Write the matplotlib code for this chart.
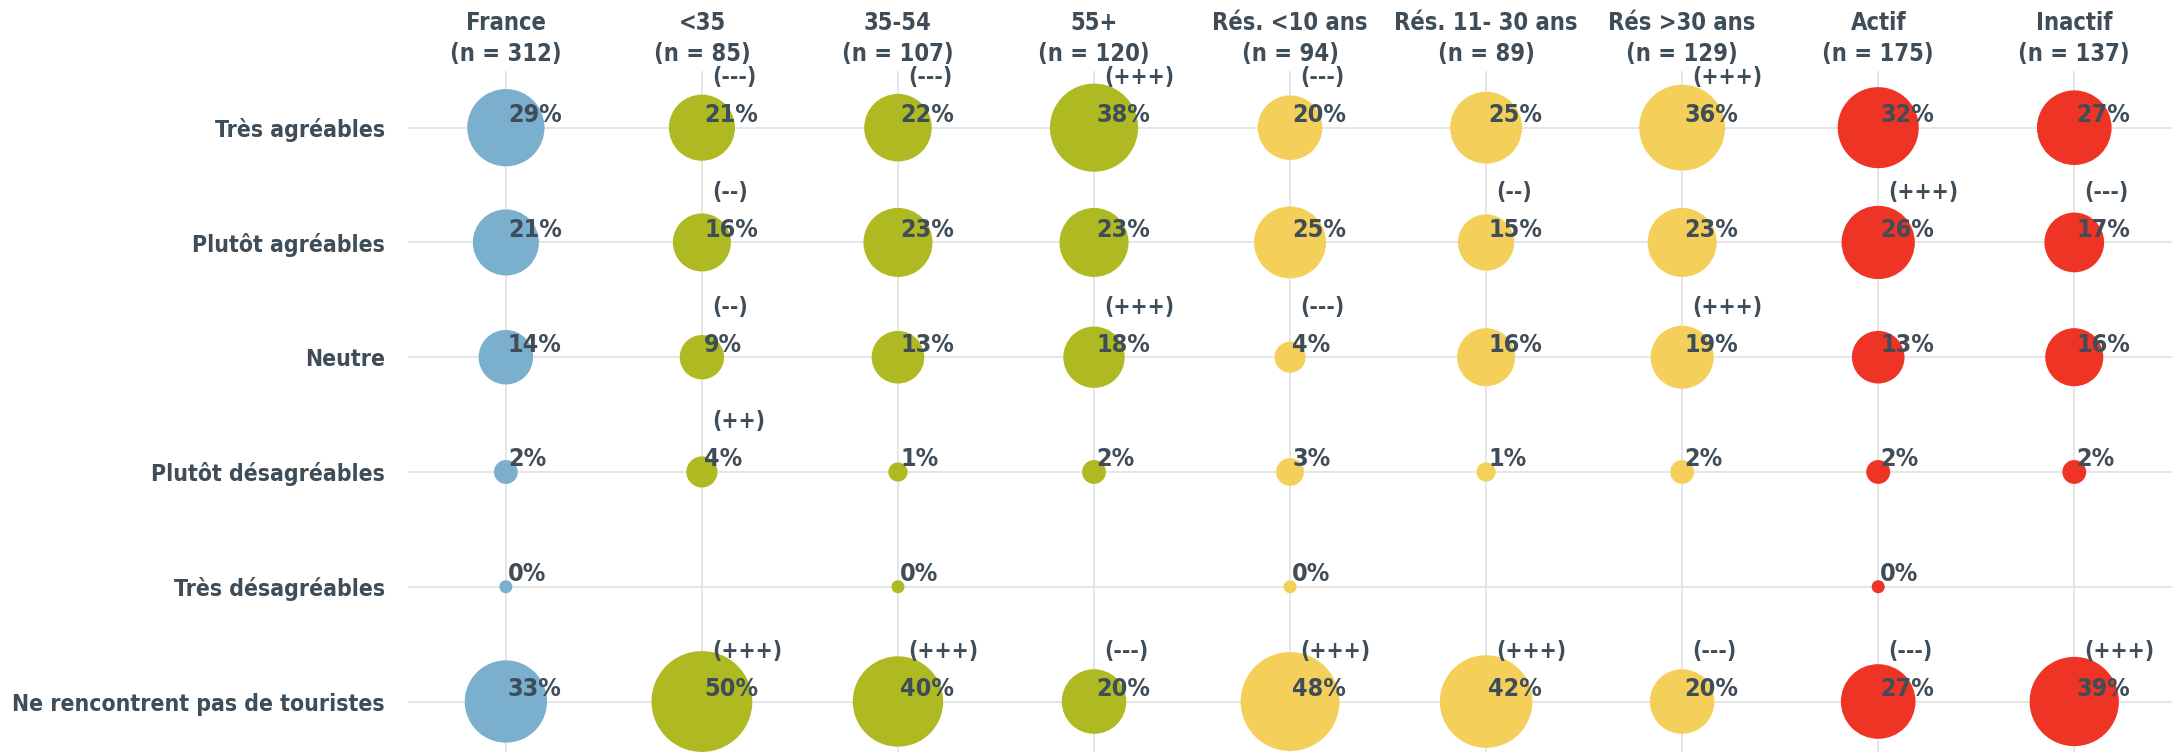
import matplotlib
matplotlib.use("Agg")
import matplotlib.pyplot as plt

# ---- data -------------------------------------------------------------
columns = ["France", "<35", "35-54", "55+", "Rés. <10 ans", "Rés. 11- 30 ans",
           "Rés >30 ans", "Actif", "Inactif"]
n_sizes = [312, 85, 107, 120, 94, 89, 129, 175, 137]
col_groups = ["total", "age", "age", "age", "res", "res", "res", "act", "act"]

rows = ["Très agréables", "Plutôt agréables", "Neutre", "Plutôt désagréables",
        "Très désagréables", "Ne rencontrent pas de touristes"]

tres_agreables = [29, 21, 22, 38, 20, 25, 36, 32, 27]
plutot_agreables = [21, 16, 23, 23, 25, 15, 23, 26, 17]
neutre = [14, 9, 13, 18, 4, 16, 19, 13, 16]
plutot_desagreables = [2, 4, 1, 2, 3, 1, 2, 2, 2]
tres_desagreables = [0, None, 0, None, 0, None, None, 0, None]
ne_rencontrent_pas = [33, 50, 40, 20, 48, 42, 20, 27, 39]

sig_tres_agreables = ["", "(---)", "(---)", "(+++)", "(---)", "", "(+++)", "", ""]
sig_plutot_agreables = ["", "(--)", "", "", "", "(--)", "", "(+++)", "(---)"]
sig_neutre = ["", "(--)", "", "(+++)", "(---)", "", "(+++)", "", ""]
sig_plutot_desagreables = ["", "(++)", "", "", "", "", "", "", ""]
sig_tres_desagreables = [""] * 9
sig_ne_rencontrent_pas = ["", "(+++)", "(+++)", "(---)", "(+++)", "(+++)", "(---)", "(---)", "(+++)"]

values = [tres_agreables, plutot_agreables, neutre, plutot_desagreables,
          tres_desagreables, ne_rencontrent_pas]
signif = [sig_tres_agreables, sig_plutot_agreables, sig_neutre, sig_plutot_desagreables,
          sig_tres_desagreables, sig_ne_rencontrent_pas]

group_colors = {"total": "#7AAFCD", "age": "#AFBA22", "res": "#F4D05B", "act": "#EE3424"}
text_color = "#3E4D58"

# ---- style ------------------------------------------------------------
plt.rcParams["font.family"] = ["DejaVu Sans"]
plt.rcParams["font.stretch"] = "condensed"
plt.rcParams["font.weight"] = "bold"


def bubble_area(v):
    # diameter^2 (px) grows linearly with the value, small floor for 0 %
    return (200 * v + 170) * (72 / 100) ** 2


fig = plt.figure(figsize=(21.81, 7.52), dpi=100)
ax = fig.add_axes([0.187, 0.0, 0.809, 0.905])

for r, row_vals in enumerate(values):
    for c, v in enumerate(row_vals):
        if v is None:
            continue
        ax.scatter(c, r, s=bubble_area(v), color=group_colors[col_groups[c]],
                   edgecolors="none", zorder=3)
        ax.annotate(f"{v}%", (c, r), xytext=(1.5, 4), textcoords="offset points",
                    ha="left", va="baseline", fontsize=18, fontweight="bold",
                    color=text_color, zorder=4)
        s = signif[r][c]
        if s:
            ax.annotate(s, (c, r), xytext=(7.5, 36), textcoords="offset points",
                        ha="left", va="center", fontsize=16.5, fontweight="bold",
                        color=text_color, zorder=4)

ax.set_xlim(-0.5, len(columns) - 0.5)
ax.set_ylim(5.44, -0.49)

ax.set_xticks(range(len(columns)))
ax.set_xticklabels([f"{c}\n(n = {n})" for c, n in zip(columns, n_sizes)],
                   fontsize=17, fontweight="bold", color=text_color, linespacing=1.35)
ax.xaxis.tick_top()
ax.set_yticks(range(len(rows)))
ax.set_yticklabels(rows, fontsize=16.5, fontweight="bold", color=text_color)

ax.tick_params(axis="x", length=0, pad=4)
ax.tick_params(axis="y", length=0, pad=16.5)
ax.grid(True, color="#E2E2E2", linewidth=1.2, zorder=0)
ax.set_axisbelow(True)
for sp in ax.spines.values():
    sp.set_visible(False)

fig.savefig("out.png", dpi=100)
